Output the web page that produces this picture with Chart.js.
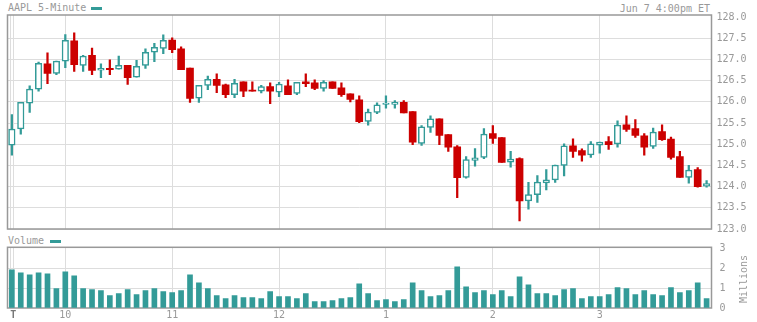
<!DOCTYPE html>
<html>
<head>
<meta charset="utf-8">
<script src="https://cdn.jsdelivr.net/npm/chart.js@4.4.1/dist/chart.umd.min.js"></script>
<style>
    body { margin: 0; background: #fff; }
    #wrap { position: relative; width: 757px; height: 322px; overflow: hidden;
        font-family: "DejaVu Sans Mono", monospace; font-size: 10px; color: #999; }
    .lbl { position: absolute; white-space: nowrap; line-height: 12px; }
    .key { position: absolute; width: 11px; height: 3px; background: #339b98; }
    canvas { position: absolute; left: 0; }
</style>
</head>
<body>
<div id="wrap">
    <div class="lbl" style="left:8px;top:2px">AAPL 5-Minute</div>
    <div class="key" style="left:91px;top:7px"></div>
    <div class="lbl" style="right:47px;top:3px">Jun 7 4:00pm ET</div>
    <div class="lbl" style="left:8px;top:235px">Volume</div>
    <div class="key" style="left:50px;top:240px"></div>
    <canvas id="price" width="757" height="240" style="top:0"></canvas>
    <canvas id="volume" width="757" height="90" style="top:232px"></canvas>
    <div class="lbl" style="left:714px;top:273px;width:60px;text-align:center;transform:rotate(-90deg)">Millions</div>
</div>
<script>
const opens = [124.98, 125.36, 125.97, 126.30, 126.90, 126.67, 126.96, 127.44, 126.86, 127.10,
    126.75, 126.79, 126.77, 126.86, 126.58, 126.86, 127.17, 127.26, 127.46, 127.25,
    126.80, 126.09, 126.39, 126.53, 126.40, 126.17, 126.47, 126.28, 126.25, 126.36,
    126.23, 126.38, 126.20, 126.47, 126.45, 126.32, 126.47, 126.33, 126.19, 126.05,
    125.54, 125.75, 125.94, 125.94, 125.99, 125.77, 125.02, 125.40, 125.60, 125.23,
    124.94, 124.22, 124.62, 124.69, 125.25, 125.16, 124.58, 124.66, 123.66, 123.81,
    124.09, 124.16, 124.50, 124.96, 124.85, 124.75, 124.98, 125.06, 125.01, 125.46,
    125.37, 125.20, 124.95, 125.30, 125.12, 124.71, 124.22, 124.40, 124.01];
const highs = [125.70, 125.99, 126.38, 126.94, 127.16, 126.96, 127.59, 127.63, 127.10, 127.27,
    126.90, 126.99, 127.08, 126.86, 126.98, 127.25, 127.38, 127.58, 127.51, 127.30,
    126.80, 126.39, 126.61, 126.66, 126.42, 126.53, 126.47, 126.47, 126.39, 126.45,
    126.46, 126.52, 126.46, 126.66, 126.52, 126.50, 126.47, 126.45, 126.19, 126.14,
    125.83, 125.98, 126.14, 126.03, 126.03, 125.77, 125.44, 125.67, 125.60, 125.23,
    124.97, 124.71, 124.90, 125.37, 125.44, 125.16, 124.83, 124.68, 124.10, 124.26,
    124.40, 124.51, 125.01, 125.13, 124.89, 125.06, 125.05, 125.18, 125.55, 125.67,
    125.58, 125.25, 125.38, 125.46, 125.17, 124.83, 124.50, 124.45, 124.14];
const lows = [124.74, 125.24, 125.75, 126.25, 126.43, 126.64, 126.81, 126.72, 126.72, 126.64,
    126.57, 126.64, 126.77, 126.41, 126.58, 126.79, 126.95, 127.14, 127.16, 126.76,
    125.99, 125.99, 126.29, 126.22, 126.10, 126.10, 126.12, 126.25, 126.21, 125.96,
    126.12, 126.17, 126.17, 126.36, 126.29, 126.25, 126.32, 126.13, 126.00, 125.51,
    125.45, 125.72, 125.85, 125.85, 125.74, 124.99, 124.97, 125.28, 124.99, 124.83,
    123.74, 124.20, 124.48, 124.66, 125.02, 124.57, 124.46, 123.19, 123.47, 123.63,
    123.92, 124.10, 124.25, 124.69, 124.60, 124.69, 124.79, 124.88, 124.93, 125.30,
    125.16, 124.74, 124.90, 125.09, 124.65, 124.22, 124.08, 123.99, 123.99];
const closes = [125.36, 125.99, 126.30, 126.91, 126.67, 126.96, 127.45, 126.88, 127.08, 126.74,
    126.79, 126.76, 126.86, 126.57, 126.84, 127.17, 127.29, 127.45, 127.23, 126.76,
    126.08, 126.39, 126.53, 126.39, 126.17, 126.44, 126.25, 126.25, 126.36, 126.25,
    126.42, 126.17, 126.46, 126.43, 126.32, 126.46, 126.32, 126.17, 126.06, 125.53,
    125.76, 125.93, 125.97, 125.99, 125.74, 125.05, 125.41, 125.60, 125.21, 124.93,
    124.21, 124.64, 124.68, 125.24, 125.14, 124.57, 124.65, 123.66, 123.81, 124.11,
    124.16, 124.51, 124.96, 124.83, 124.74, 125.01, 125.05, 124.99, 125.45, 125.35,
    125.21, 124.93, 125.29, 125.11, 124.69, 124.22, 124.39, 124.00, 124.07];
// millions of shares
const volumes = [1.92, 1.77, 1.67, 1.77, 1.72, 0.97, 1.82, 1.62, 0.97, 0.92,
    0.87, 0.62, 0.72, 0.92, 0.67, 0.87, 0.97, 0.82, 0.77, 0.87,
    1.67, 1.27, 0.97, 0.62, 0.47, 0.62, 0.52, 0.52, 0.47, 0.82,
    0.57, 0.57, 0.47, 0.72, 0.32, 0.32, 0.37, 0.47, 0.52, 1.22,
    0.72, 0.37, 0.42, 0.32, 0.42, 1.27, 0.87, 0.57, 0.62, 0.87,
    2.07, 1.07, 0.77, 0.87, 0.67, 0.87, 0.57, 1.57, 1.17, 0.72,
    0.72, 0.62, 0.92, 0.97, 0.47, 0.57, 0.57, 0.67, 1.02, 0.97,
    0.67, 0.87, 0.67, 0.62, 1.02, 0.77, 0.87, 1.27, 0.47];

const timeTicks = [-0.1, 0.15, 6, 18, 30, 42, 54, 66];
const timeLabels = ['', 'T', '10', '11', '12', '1', '2', '3'];
const priceTicks = [123, 123.5, 124, 124.5, 125, 125.5, 126, 126.5, 127, 127.5, 128];
const volumeTicks = [0, 1, 2, 3];

const TEAL = '#339b98';
const RED = '#cc0000';
const GRID = '#dddddd';
const TEXT = '#999999';
const FONT = { family: '"DejaVu Sans Mono", monospace', size: 10 };

const frame = {
    id: 'frame',
    beforeDatasetsDraw(chart) {
        const { ctx, chartArea: a } = chart;
        ctx.save();
        ctx.strokeStyle = '#999';
        ctx.lineWidth = 1.5;
        ctx.strokeRect(a.left, a.top, a.right - a.left, a.bottom - a.top);
        ctx.restore();
    }
};

const up = [];
const down = [];
const wicks = [];
const wickColors = [];
opens.forEach((open, i) => {
    const close = closes[i];
    if (close >= open) up.push({ x: i, y: [open, close] });
    else down.push({ x: i, y: [open, close] });
    wicks.push({ x: i, y: [lows[i], highs[i]] });
    wickColors.push(close >= open ? TEAL : RED);
});

function timeAxis(showLabels) {
    return {
        type: 'linear',
        min: -0.49,
        max: 78.55,
        offset: false,
        grid: { color: GRID, drawTicks: false, offset: false },
        border: { display: false },
        afterBuildTicks: scale => { scale.ticks = timeTicks.map(v => ({ value: v })); },
        afterFit: scale => { scale.height = showLabels ? 13.7 : 0; },
        ticks: {
            display: showLabels,
            autoSkip: false,
            maxRotation: 0,
            padding: 1,
            callback: (value, index) => timeLabels[index],
            font: ctx => (ctx.tick && ctx.tick.value === 0.15) ? { ...FONT, weight: 'bold' } : FONT,
            color: ctx => (ctx.tick && ctx.tick.value === 0.15) ? '#777' : TEXT
        }
    };
}

new Chart(document.getElementById('price'), {
    type: 'bar',
    data: {
        datasets: [
            {
                data: up,
                backgroundColor: '#ffffff',
                borderColor: TEAL,
                borderWidth: 1.5,
                borderSkipped: false,
                barThickness: 6.5,
                grouped: false
            },
            {
                data: down,
                backgroundColor: RED,
                borderWidth: 0,
                barThickness: 7,
                grouped: false
            },
            {
                data: wicks,
                backgroundColor: wickColors,
                borderWidth: 0,
                barThickness: 1.6,
                grouped: false
            }
        ]
    },
    options: {
        responsive: false,
        animation: false,
        events: [],
        layout: { padding: { left: 7.5, top: 15, right: 0, bottom: 10.4 } },
        plugins: { legend: { display: false }, tooltip: { enabled: false } },
        scales: {
            x: timeAxis(false),
            y: {
                position: 'right',
                min: 123,
                max: 128.05,
                grid: { color: ctx => ctx.tick.value >= 128 ? 'transparent' : GRID, drawTicks: false },
                border: { display: false },
                afterBuildTicks: scale => { scale.ticks = priceTicks.map(v => ({ value: v })); },
                afterFit: scale => { scale.width = 45.5; },
                ticks: { font: FONT, color: TEXT, padding: 5, callback: v => v.toFixed(1) }
            }
        }
    },
    plugins: [frame]
});

new Chart(document.getElementById('volume'), {
    type: 'bar',
    data: {
        datasets: [
            {
                data: volumes.map((v, i) => ({ x: i, y: v })),
                backgroundColor: TEAL,
                borderWidth: 0,
                barThickness: 5,
                grouped: false
            }
        ]
    },
    options: {
        responsive: false,
        animation: false,
        events: [],
        layout: { padding: { left: 7.5, top: 15.3, right: 0, bottom: 0 } },
        plugins: { legend: { display: false }, tooltip: { enabled: false } },
        scales: {
            x: timeAxis(true),
            y: {
                position: 'right',
                min: 0,
                max: 3.05,
                grid: { color: ctx => (ctx.tick.value >= 3 || ctx.tick.value <= 0) ? 'transparent' : GRID, drawTicks: false },
                border: { display: false },
                afterBuildTicks: scale => { scale.ticks = volumeTicks.map(v => ({ value: v })); },
                afterFit: scale => { scale.width = 45.5; },
                ticks: { font: FONT, color: TEXT, padding: 8, callback: v => String(v) }
            }
        }
    },
    plugins: [frame]
});
</script>
</body>
</html>
